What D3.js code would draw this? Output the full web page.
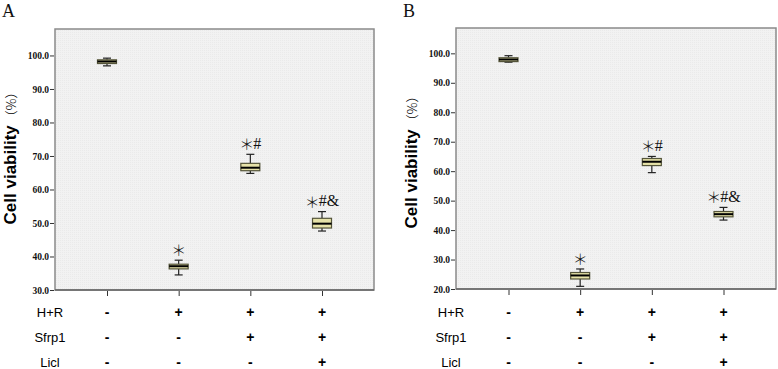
<!DOCTYPE html>
<html>
<head>
<meta charset="utf-8">
<script src="https://cdn.jsdelivr.net/npm/d3@7"></script>
<style>
  html, body { margin: 0; padding: 0; background: #fff; }
  svg { display: block; }
</style>
</head>
<body>
<svg id="chart" width="778" height="369"></svg>
<script>
// ---- data ----
const groups = ["G1", "G2", "G3", "G4"];
const rowLabels = ["H+R", "Sfrp1", "Licl"];
const rowHR = ["-", "+", "+", "+"];
const rowSfrp1 = ["-", "-", "+", "+"];
const rowLicl = ["-", "-", "-", "+"];
const annotations = ["", "", "#", "#&"]; // text after the asterisk
const hasStar = [false, true, true, true];

// Panel A box statistics
const minA = [96.9, 34.5, 64.8, 47.6];
const q1A = [97.6, 36.3, 65.6, 48.5];
const medA = [98.2, 37.1, 66.5, 49.8];
const q3A = [98.7, 37.7, 67.8, 51.4];
const maxA = [99.2, 38.9, 70.5, 53.4];
const ticksA = [30, 40, 50, 60, 70, 80, 90, 100];

// Panel B box statistics
const minB = [97.0, 20.9, 59.5, 43.4];
const q1B = [97.2, 23.4, 61.9, 44.5];
const medB = [97.9, 24.6, 63.2, 45.4];
const q3B = [98.5, 25.6, 64.3, 46.3];
const maxB = [99.2, 26.8, 65.0, 47.7];
const ticksB = [20, 30, 40, 50, 60, 70, 80, 90, 100];

const svg = d3.select("#chart");

// dotted background pattern
const defs = svg.append("defs");
const pat = defs.append("pattern").attr("id", "dots").attr("width", 2).attr("height", 2)
  .attr("patternUnits", "userSpaceOnUse");
pat.append("rect").attr("width", 2).attr("height", 2).attr("fill", "#f2f2f2");
pat.append("rect").attr("width", 1).attr("height", 1).attr("fill", "#eaeaea");

function drawPanel(cfg) {
  const g = svg.append("g");
  const y = d3.scaleLinear().domain(cfg.domain).range([cfg.bottom, cfg.top]);
  const x = d3.scalePoint().domain(groups).range(cfg.xRange);

  // panel letter
  g.append("text").attr("x", cfg.letterX).attr("y", 17)
    .attr("font-family", "Liberation Serif, Times New Roman, serif")
    .attr("font-size", 18).attr("fill", "#111").text(cfg.letter);

  // plot frame
  g.append("rect").attr("x", cfg.left).attr("y", cfg.top)
    .attr("width", cfg.right - cfg.left).attr("height", cfg.bottom - cfg.top)
    .attr("fill", "url(#dots)").attr("stroke", "#8a8a8a").attr("stroke-width", 1.5);

  // y axis
  const yAxis = d3.axisLeft(y).tickValues(cfg.ticks).tickFormat(d3.format(".1f"))
    .tickSize(4).tickPadding(1);
  const ya = g.append("g").attr("transform", `translate(${cfg.left - 1},0)`).call(yAxis);
  ya.select(".domain").remove();
  ya.selectAll(".tick line").attr("stroke", "#333");
  ya.selectAll(".tick text").attr("font-family", "Liberation Serif, Times New Roman, serif")
    .attr("font-weight", "bold").attr("font-size", 9.5).attr("fill", "#111");

  // x axis ticks (no labels)
  const xAxis = d3.axisBottom(x).tickSize(5).tickFormat("");
  const xa = g.append("g").attr("transform", `translate(0,${cfg.bottom + 1})`).call(xAxis);
  xa.select(".domain").remove();
  xa.selectAll(".tick line").attr("stroke", "#333");

  // bottom axis line (darker)
  g.append("line").attr("x1", cfg.left).attr("x2", cfg.right)
    .attr("y1", cfg.bottom).attr("y2", cfg.bottom).attr("stroke", "#666").attr("stroke-width", 1.5);

  // boxes
  const bw = 19, cw = 8;
  groups.forEach((k, i) => {
    const cx = x(k);
    const bg = g.append("g");
    bg.append("line").attr("x1", cx).attr("x2", cx).attr("y1", y(cfg.max[i])).attr("y2", y(cfg.q3[i]))
      .attr("stroke", "#222").attr("stroke-width", 1.2);
    bg.append("line").attr("x1", cx).attr("x2", cx).attr("y1", y(cfg.q1[i])).attr("y2", y(cfg.min[i]))
      .attr("stroke", "#222").attr("stroke-width", 1.2);
    bg.append("line").attr("x1", cx - cw / 2).attr("x2", cx + cw / 2).attr("y1", y(cfg.max[i])).attr("y2", y(cfg.max[i]))
      .attr("stroke", "#222").attr("stroke-width", 1.2);
    bg.append("line").attr("x1", cx - cw / 2).attr("x2", cx + cw / 2).attr("y1", y(cfg.min[i])).attr("y2", y(cfg.min[i]))
      .attr("stroke", "#222").attr("stroke-width", 1.2);
    bg.append("rect").attr("x", cx - bw / 2).attr("y", y(cfg.q3[i]))
      .attr("width", bw).attr("height", Math.max(1, y(cfg.q1[i]) - y(cfg.q3[i])))
      .attr("fill", "#e6e2a8").attr("stroke", "#55553a").attr("stroke-width", 1.2);
    bg.append("line").attr("x1", cx - bw / 2).attr("x2", cx + bw / 2).attr("y1", y(cfg.med[i])).attr("y2", y(cfg.med[i]))
      .attr("stroke", "#000").attr("stroke-width", 2);
    if (hasStar[i]) {
      const at = g.append("text").attr("x", cx).attr("y", y(cfg.max[i]) - 5.5)
        .attr("text-anchor", "middle")
        .attr("fill", "#111");
      at.append("tspan").attr("font-family", "Noto Sans CJK JP, sans-serif")
        .attr("font-weight", 300).attr("font-size", 15).attr("dy", 1.5).text("＊");
      if (annotations[i]) {
        at.append("tspan").attr("font-family", "Liberation Serif, Times New Roman, serif")
          .attr("font-size", 16).attr("dx", -1).attr("dy", -1.5).text(annotations[i]);
      }
    }
  });

  // y title
  const t = g.append("text")
    .attr("transform", `translate(${cfg.titleX},${cfg.titleY}) rotate(-90)`)
    .attr("text-anchor", "middle").attr("fill", "#000");
  t.append("tspan").attr("font-family", "Liberation Sans, Arial, sans-serif")
    .attr("font-weight", "bold").attr("font-size", 17).text("Cell viability");
  t.append("tspan").attr("font-family", "Noto Sans CJK SC, sans-serif")
    .attr("font-size", 13).attr("font-weight", 300).attr("dx", 2).text("（%）");

  // row labels and signs
  const rows = [rowHR, rowSfrp1, rowLicl];
  const rowY = [312, 337, 362];
  rows.forEach((vals, r) => {
    g.append("text").attr("x", cfg.rowLabelX).attr("y", rowY[r])
      .attr("text-anchor", "middle").attr("dominant-baseline", "central")
      .attr("font-family", "Liberation Sans, Arial, sans-serif")
      .attr("font-size", 13).attr("fill", "#000").text(rowLabels[r]);
    vals.forEach((v, i) => {
      g.append("text").attr("x", x(groups[i])).attr("y", rowY[r])
        .attr("text-anchor", "middle").attr("dominant-baseline", "central")
        .attr("font-family", "Liberation Sans, Arial, sans-serif")
        .attr("font-weight", "bold").attr("font-size", 14).attr("fill", "#000").text(v);
    });
  });
}

drawPanel({
  letter: "A", letterX: 2,
  left: 55, right: 374, top: 29, bottom: 290,
  domain: [30, 107.9], ticks: ticksA, xRange: [107, 322],
  min: minA, q1: q1A, med: medA, q3: q3A, max: maxA,
  titleX: 15.5, titleY: 155, rowLabelX: 50
});
drawPanel({
  letter: "B", letterX: 403,
  left: 456, right: 776, top: 28, bottom: 289,
  domain: [20, 108.6], ticks: ticksB, xRange: [508.5, 723.5],
  min: minB, q1: q1B, med: medB, q3: q3B, max: maxB,
  titleX: 417, titleY: 159, rowLabelX: 451
});
</script>
</body>
</html>
